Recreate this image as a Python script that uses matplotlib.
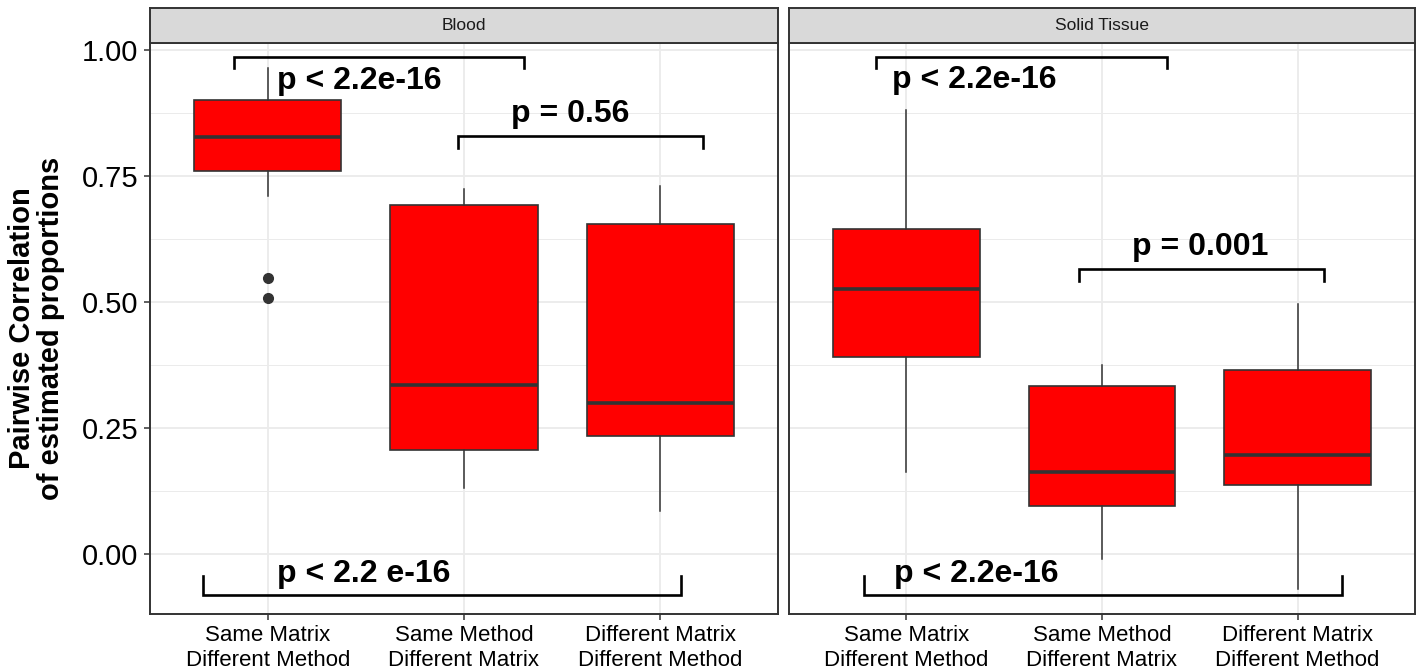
import matplotlib
matplotlib.use("Agg")
import matplotlib.pyplot as plt
from matplotlib.ticker import FixedLocator

plt.rcParams['font.family'] = ['Liberation Sans', 'DejaVu Sans']

# ---- data -------------------------------------------------------------
categories = ["Same Matrix\nDifferent Method",
              "Same Method\nDifferent Matrix",
              "Different Matrix\nDifferent Method"]
panels = ["Blood", "Solid Tissue"]

# box summaries: lower whisker, Q1, median, Q3, upper whisker, outliers
blood_whislo = [0.711, 0.131, 0.085]
blood_q1 = [0.760, 0.205, 0.234]
blood_med = [0.827, 0.335, 0.300]
blood_q3 = [0.900, 0.692, 0.654]
blood_whishi = [0.964, 0.724, 0.730]
blood_fliers = [[0.547, 0.507], [], []]

solid_whislo = [0.162, -0.011, -0.070]
solid_q1 = [0.391, 0.094, 0.136]
solid_med = [0.525, 0.162, 0.196]
solid_q3 = [0.645, 0.333, 0.364]
solid_whishi = [0.880, 0.375, 0.495]
solid_fliers = [[], [], []]

blood_labels = ["p < 2.2e-16", "p = 0.56", "p < 2.2 e-16"]
solid_labels = ["p < 2.2e-16", "p = 0.001", "p < 2.2e-16"]

# ---- layout / style ---------------------------------------------------
W, H = 1416, 671
FILL = "#FF0000"
EDGE = "#333333"
GRID = "#EBEBEB"

# bracket geometry per panel: (x_start, x_end, y_bar, y_tip, x_text, y_text)
blood_brackets = [
    (0.828, 2.306, 0.986, 0.964, 1.468, 0.923),
    (1.969, 3.218, 0.829, 0.806, 2.543, 0.857),
    (0.670, 3.106, -0.081, -0.044, 1.488, -0.056),
]
solid_brackets = [
    (0.845, 2.333, 0.986, 0.964, 1.349, 0.925),
    (1.883, 3.135, 0.565, 0.542, 2.504, 0.593),
    (0.783, 3.225, -0.081, -0.044, 1.357, -0.056),
]


def box_stats(whislo, q1, med, q3, whishi, fliers):
    return [dict(whislo=a, q1=b, med=c, q3=d, whishi=e, fliers=f)
            for a, b, c, d, e, f in zip(whislo, q1, med, q3, whishi, fliers)]


fig = plt.figure(figsize=(W / 100, H / 100), dpi=100)

panel_px = [(150, 778), (789, 1415)]
top_px, bottom_px, strip_top_px = 43, 614, 8

stats = [
    box_stats(blood_whislo, blood_q1, blood_med, blood_q3, blood_whishi, blood_fliers),
    box_stats(solid_whislo, solid_q1, solid_med, solid_q3, solid_whishi, solid_fliers),
]
brackets = [blood_brackets, solid_brackets]
labels = [blood_labels, solid_labels]

positions = [1, 2, 3]

for i, (x0, x1) in enumerate(panel_px):
    ax = fig.add_axes([x0 / W, 1 - bottom_px / H, (x1 - x0) / W,
                       (bottom_px - top_px) / H])
    ax.set_xlim(0.4, 3.6)
    ax.set_ylim(-0.1196, 1.0139)

    # grid
    ax.yaxis.set_major_locator(FixedLocator([0, 0.25, 0.5, 0.75, 1.0]))
    ax.yaxis.set_minor_locator(FixedLocator([-0.125, 0.125, 0.375, 0.625, 0.875]))
    ax.set_xticks(positions)
    ax.grid(which="major", color=GRID, lw=1.3, zorder=0)
    ax.grid(which="minor", axis="y", color=GRID, lw=0.7, zorder=0)
    ax.set_axisbelow(True)

    ax.bxp(stats[i], positions=positions, widths=0.75, patch_artist=True,
           showcaps=False,
           boxprops=dict(facecolor=FILL, edgecolor=EDGE, linewidth=1.2),
           whiskerprops=dict(color=EDGE, linewidth=1.1),
           medianprops=dict(color=EDGE, linewidth=2.6, solid_capstyle="butt"),
           flierprops=dict(marker="o", markerfacecolor=EDGE,
                           markeredgecolor=EDGE, markersize=7),
           manage_ticks=False)

    ax.set_xticks(positions)
    ax.set_xticklabels(categories, fontsize=16, color="black", linespacing=1.25)
    ax.tick_params(axis="x", which="both", length=4, width=1.1, color=EDGE, pad=4)
    ax.tick_params(axis="y", which="minor", length=0)
    if i == 0:
        ax.set_yticklabels(["0.00", "0.25", "0.50", "0.75", "1.00"],
                           fontsize=21, color="black")
        ax.tick_params(axis="y", which="major", length=4, width=1.1,
                       color=EDGE, pad=4.5)
        ax.set_ylabel("Pairwise Correlation\nof estimated proportions",
                      fontsize=21, fontweight="bold", linespacing=1.05,
                      labelpad=12)
    else:
        ax.tick_params(axis="y", which="major", length=0, labelleft=False)

    for s in ax.spines.values():
        s.set_color(EDGE)
        s.set_linewidth(1.4)

    # significance brackets
    for (xa, xb, ybar, ytip, xt, yt), lab in zip(brackets[i], labels[i]):
        ax.plot([xa, xa, xb, xb], [ytip, ybar, ybar, ytip], color="black",
                lw=1.9, solid_joinstyle="miter", zorder=5)
        ax.text(xt, yt, lab, ha="center", va="baseline", fontsize=23,
                fontweight="bold", color="black", zorder=6)

    # facet strip
    sax = fig.add_axes([x0 / W, 1 - top_px / H, (x1 - x0) / W,
                        (top_px - strip_top_px) / H])
    sax.set_facecolor("#D9D9D9")
    sax.set_xticks([])
    sax.set_yticks([])
    for s in sax.spines.values():
        s.set_color(EDGE)
        s.set_linewidth(1.4)
    sax.text(0.5, 0.5, panels[i], ha="center", va="center", fontsize=12.5,
             color="#1A1A1A", transform=sax.transAxes)

fig.savefig("out.png", dpi=100)
